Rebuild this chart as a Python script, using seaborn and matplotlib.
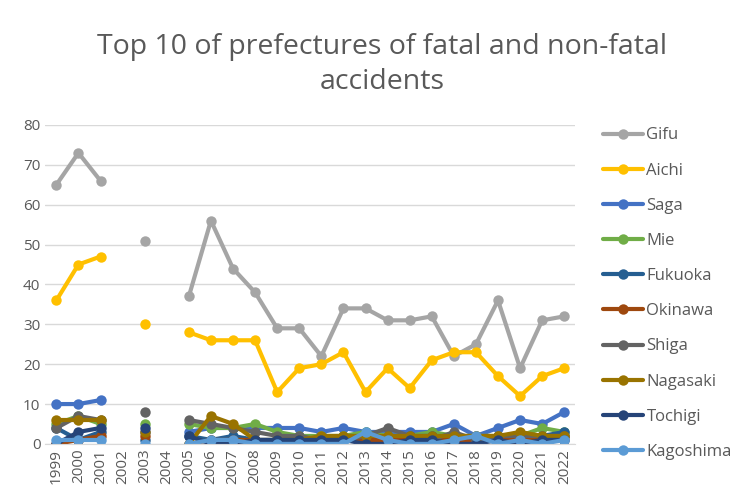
import numpy as np
import pandas as pd
import seaborn as sns
import matplotlib.pyplot as plt

years = list(range(1999, 2023))
nan = np.nan

# accidents per prefecture (2002 and 2004 missing)
gifu = [65, 73, 66, nan, 51, nan, 37, 56, 44, 38, 29, 29, 22, 34, 34, 31, 31, 32, 22, 25, 36, 19, 31, 32]
aichi = [36, 45, 47, nan, 30, nan, 28, 26, 26, 26, 13, 19, 20, 23, 13, 19, 14, 21, 23, 23, 17, 12, 17, 19]
saga = [10, 10, 11, nan, 3, nan, 3, 4, 4, 4, 4, 4, 3, 4, 3, 3, 3, 3, 5, 2, 4, 6, 5, 8]
mie = [5, 7, 5, nan, 5, nan, 5, 4, 4, 5, 3, 2, 2, 2, 3, 2, 2, 3, 2, 2, 2, 2, 4, 3]
fukuoka = [4, 1, 3, nan, 1, nan, 2, 1, 2, 1, 1, 1, 1, 1, 1, 1, 2, 2, 1, 1, 1, 1, 2, 3]
okinawa = [0, 1, 2, nan, 2, nan, 0, 1, 1, 1, 0, 1, 1, 1, 1, 1, 1, 1, 1, 1, 1, 1, 1, 2]
shiga = [4, 7, 6, nan, 8, nan, 6, 5, 4, 3, 2, 2, 1, 1, 2, 4, 2, 1, 3, 1, 2, 2, 2, 2]
nagasaki = [6, 6, 6, nan, 3, nan, 0, 7, 5, 1, 1, 1, 2, 2, 2, 2, 2, 2, 2, 2, 2, 3, 2, 2]
tochigi = [0, 3, 4, nan, 4, nan, 2, 0, 0, 1, 1, 1, 1, 1, 0, 0, 1, 1, 0, 0, 1, 0, 1, 1]
kagoshima = [1, 1, 1, nan, 0, nan, 0, 1, 1, 0, 0, 0, 0, 0, 3, 1, 0, 0, 1, 2, 0, 1, 0, 1]

prefectures = ["Gifu", "Aichi", "Saga", "Mie", "Fukuoka", "Okinawa",
               "Shiga", "Nagasaki", "Tochigi", "Kagoshima"]
series = [gifu, aichi, saga, mie, fukuoka, okinawa, shiga, nagasaki, tochigi, kagoshima]
colors = ["#A5A5A5", "#FFC000", "#4472C4", "#70AD47", "#255E91", "#9E480E",
          "#636363", "#997300", "#264478", "#5B9BD5"]

rows = []
for name, vals in zip(prefectures, series):
    seg = 0
    for y, v in zip(years, vals):
        if np.isnan(v):
            seg += 1
            continue
        rows.append({"year": y, "value": v, "pref": name, "seg": seg})
df = pd.DataFrame(rows)

sns.set_style("white")
plt.rcParams["font.family"] = ["Open Sans", "DejaVu Sans"]

fig = plt.figure(figsize=(7.55, 4.96), dpi=100)
ax = fig.add_axes([0.06, 0.105, 0.702, 0.643])

sns.lineplot(data=df, x="year", y="value", hue="pref", hue_order=prefectures,
             units="seg", estimator=None, palette=colors, marker="o",
             markersize=7.5, markeredgewidth=0, linewidth=3, ax=ax, legend=True)

ax.set_xlim(1998.5, 2022.5)
ax.set_ylim(0, 80)
ax.set_yticks(range(0, 81, 10))
ax.set_xticks(years)
ax.set_xticklabels([str(y) for y in years], rotation=90)
ax.tick_params(axis="both", labelsize=11, colors="#595959", length=0)
ax.grid(axis="y", color="#D9D9D9", linewidth=1)
ax.set_axisbelow(True)
for s in ["top", "right", "left"]:
    ax.spines[s].set_visible(False)
ax.spines["bottom"].set_color("#D9D9D9")
ax.set_xlabel("")
ax.set_ylabel("")

handles, labels = ax.get_legend_handles_labels()
ax.get_legend().remove()
fig.legend(handles, labels, loc="center left", bbox_to_anchor=(0.79, 0.408),
           frameon=False, fontsize=12, labelcolor="#595959", handlelength=2.4,
           handletextpad=0.2, labelspacing=1.15, borderaxespad=0)

fig.text(0.506, 0.87, "Top 10 of prefectures of fatal and non-fatal\naccidents",
         ha="center", va="center", fontsize=20.5, color="#595959", linespacing=1.3)

fig.savefig("out.png", dpi=100)
